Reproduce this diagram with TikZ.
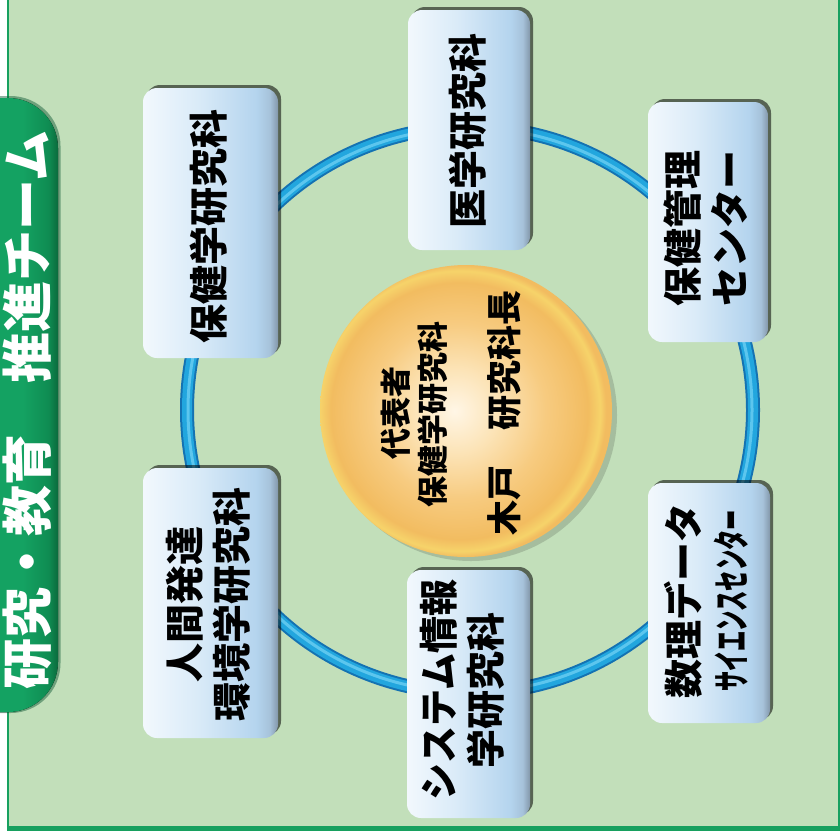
\documentclass[tikz,border=0pt]{standalone}
\usepackage{fontspec}
\newfontfamily\jp{Noto Sans CJK JP}
\usetikzlibrary{shadows}
\definecolor{bggreen}{HTML}{C2DFBA}
\definecolor{framegreen}{HTML}{17A05F}
\definecolor{tabA}{HTML}{14A262}
\definecolor{tabB}{HTML}{0F8C52}
\definecolor{tabC}{HTML}{0A6A3C}
\definecolor{bxA}{HTML}{F2F8FD}
\definecolor{bxB}{HTML}{DAEBF8}
\definecolor{bxC}{HTML}{B4D4EE}
\definecolor{bxD}{HTML}{A6C2DA}
\definecolor{bxE}{HTML}{8397AA}
\definecolor{blA}{HTML}{FFF6E6}
\definecolor{blB}{HTML}{FCE4B8}
\definecolor{blC}{HTML}{F7CB80}
\definecolor{blD}{HTML}{F2BC60}
\definecolor{blE}{HTML}{F6D36A}
\definecolor{ringdark}{HTML}{1472B2}
\definecolor{ringmid}{HTML}{22A6DE}
\definecolor{ringlight}{HTML}{5CC6EE}
\pgfdeclarehorizontalshading{boxshade}{100bp}{color(0bp)=(bxA); color(25bp)=(bxA); color(45bp)=(bxB); color(67bp)=(bxC); color(72bp)=(bxD); color(75bp)=(bxE); color(100bp)=(bxE)}
\pgfdeclarehorizontalshading{tabshade}{100bp}{color(0bp)=(tabA); color(25bp)=(tabA); color(60bp)=(tabA); color(71bp)=(tabB); color(75bp)=(tabC); color(100bp)=(tabC)}
\pgfdeclareradialshading{ballshade}{\pgfpoint{-2bp}{0bp}}{color(0bp)=(blA); color(7bp)=(blB); color(15bp)=(blC); color(22bp)=(blD); color(24bp)=(blE); color(25bp)=(blD); color(50bp)=(blD)}
\begin{document}
\begin{tikzpicture}[x=1pt,y=-1pt,
  box/.style={rectangle, rounded corners=14pt, shading=boxshade,
    general shadow={shadow xshift=3pt, shadow yshift=3pt, fill=black, opacity=.55},
    inner sep=0pt},
  lbl/.style={rotate=90, align=center, inner sep=0pt, text=black,
    font=\jp\bfseries\fontsize{39}{47}\selectfont},
  ball/.style={circle, shading=ballshade, inner sep=0pt,
    general shadow={shadow xshift=5pt, shadow yshift=-4pt, fill=black, opacity=.15}},
  ctxt/.style={rotate=90, inner sep=0pt, text=black, font=\jp\bfseries\fontsize{31}{31}\selectfont},
]
\useasboundingbox (0,0) rectangle (840,839);
\fill[white] (0,0) rectangle (840,839);
\fill[bggreen] (8,-5) rectangle (839,828.5);
\draw[framegreen, line width=2.5pt] (8,-5) -- (8,830);
\draw[framegreen, line width=4.5pt] (6.8,828.5) -- (841,828.5);
\draw[framegreen, line width=2pt] (839,-5) -- (839,830);
% tab
\fill[tabC!80!black, opacity=.45, rounded corners=50pt] (-58,96) rectangle (60.5,713);
\fill[shading=tabshade, rounded corners=50pt] (-60,98) rectangle (58,712);
\node[rotate=90, inner sep=0pt, text=white, font=\jp\bfseries\fontsize{51}{51}\selectfont] (tabtxt) at (27,410) {研究・教育　推進チーム};
% ring
\coordinate (rc) at (470,410);
\draw[ringdark, line width=14pt] (rc) circle[radius=283];
\draw[ringmid, line width=10pt] (rc) circle[radius=283];
\draw[ringlight, line width=3pt] (rc) circle[radius=282];
% boxes
\node[box, minimum width=122pt, minimum height=240pt] (b1) at (469,130) {};
\node[box, minimum width=135pt, minimum height=270pt] (b2) at (210.5,223) {};
\node[box, minimum width=120pt, minimum height=240pt] (b3) at (708,222) {};
\node[box, minimum width=122pt, minimum height=240pt] (b4) at (709,603) {};
\node[box, minimum width=123pt, minimum height=248pt] (b5) at (468.5,694) {};
\node[box, minimum width=135pt, minimum height=270pt] (b6) at (210.5,603) {};
\node[lbl] (t1) at (467.5,131) {医学研究科};
\node[lbl] (t2) at (208.5,226) {保健学研究科};
\node[lbl] (t3) at (706,228) {保健管理\\センター};
\node[lbl] (t4) at (706,601) {数理データ\\\scalebox{0.52}[0.95]{サイエンスセンター}};
\node[lbl] (t5) at (462,690) {\scalebox{0.95}[1]{システム情報}\\学研究科};
\node[lbl] (t6) at (208.5,604) {人間発達\\環境学研究科};
% center
\node[ball, minimum size=292pt] (ctr) at (466,411) {};
\node[ctxt] (c1) at (396,413) {代表者};
\node[ctxt] (c2) at (433,414) {保健学研究科};
\node[ctxt, font=\jp\bfseries\fontsize{35}{35}\selectfont] (c3) at (504,413) {木戸　研究科長};
\end{tikzpicture}
\end{document}
